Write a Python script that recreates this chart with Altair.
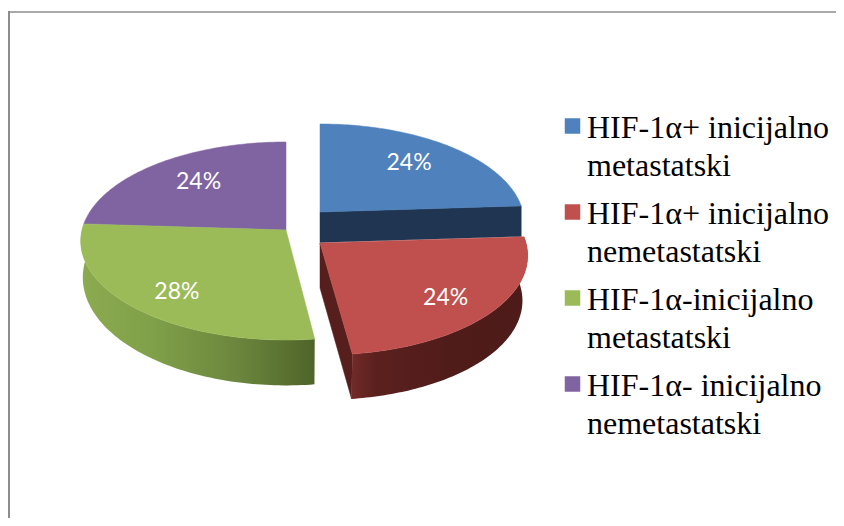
import math
import altair as alt

SERIES = ["HIF-1α+ inicijalno\nmetastatski", "HIF-1α+ inicijalno\nnemetastatski",
          "HIF-1α-inicijalno\nmetastatski", "HIF-1α- inicijalno\nnemetastatski"]
SHARES = [24, 24, 28, 24]
TOP_COLORS = ["#4F81BD", "#C0504D", "#9BBB59", "#8064A2"]
CUT_COLORS = ["#1F3552", "#561F1D", None, None]
RIM_STOPS = {
    1: [("#722A27", 0.0), ("#5A201E", 0.14), ("#501C1A", 0.55), ("#4D1B19", 1.0)],
    2: [("#8CAB50", 0.0), ("#80A049", 0.3), ("#6D883E", 0.65), ("#4F6429", 1.0)],
}

# geometry of the drawing (page pixels minus the 8px margin)
OFFSET = 8
APEX = [(320, 212), (320, 243), (286, 230), (286, 230)]
RADIUS_X = [203, 206, 204, 204]
TILT = [97.8, 99.5, 97.8, 97.8]
SKEW = [0, 0.03, 0, 0]
PERSP = 0.111
DEPTH = [30.5, 45, 35.5, 0]
DEPTH_F = [1.0, 1.0, 1.09, 1.0]
SHRINK = [1.0, 0.975, 0.99, 1.0]
LABEL_RU = [0.693, 0.727, 0.718, 0.677]
LABEL_RV = [0.75, 0.81, 0.80, 0.724]
LEG_Y = [126, 212, 298, 384]


def proj(i, frac):
    a = frac * 2 * math.pi
    u, v = math.sin(a), -math.cos(a)
    s = 1 / (1 - PERSP * v)
    dy = v * TILT[i] * s
    return u * RADIUS_X[i] * s + SKEW[i] * dy, dy


def top_pt(i, frac):
    dx, dy = proj(i, frac)
    return [APEX[i][0] - OFFSET + dx, APEX[i][1] - OFFSET + dy]


def bot_pt(i, frac):
    dx, dy = proj(i, frac)
    return [APEX[i][0] - OFFSET + dx * SHRINK[i], APEX[i][1] - OFFSET + dy * DEPTH_F[i] + DEPTH[i]]


def apex_top(i):
    return [APEX[i][0] - OFFSET, APEX[i][1] - OFFSET]


def apex_bot(i):
    return [APEX[i][0] - OFFSET, APEX[i][1] - OFFSET + DEPTH[i]]


total = sum(SHARES)
starts = [sum(SHARES[:i]) / total for i in range(4)]
ends = [sum(SHARES[:i + 1]) / total for i in range(4)]


def arc(i, pt, n=90):
    return [pt(i, starts[i] + (ends[i] - starts[i]) * k / n) for k in range(n + 1)]


def shape(ring, fill):
    data = alt.InlineData(values={"type": "FeatureCollection", "features": [
        {"type": "Feature", "properties": {},
         "geometry": {"type": "Polygon", "coordinates": [ring + [ring[0]]]}}]},
        format=alt.DataFormat(property="features", type="json"))
    kw = {"fill": fill}
    if isinstance(fill, str):
        kw.update(stroke=fill, strokeWidth=0.5)
    else:
        kw.update(strokeWidth=0)
    return alt.Chart(data).mark_geoshape(**kw).project(type="identity", scale=1, translate=[0, 0])


def gradient(stops):
    return alt.LinearGradient(gradient="linear", x1=0, x2=1, y1=0, y2=0,
                              stops=[alt.GradientStop(color=c, offset=o) for c, o in stops])


layers = []
for i in (3, 2, 0, 1):
    if CUT_COLORS[i]:
        layers.append(shape([apex_top(i), top_pt(i, ends[i]), bot_pt(i, ends[i]), apex_bot(i)], CUT_COLORS[i]))
    if i in RIM_STOPS:
        layers.append(shape(arc(i, top_pt) + arc(i, bot_pt)[::-1], gradient(RIM_STOPS[i])))
    layers.append(shape([apex_top(i)] + arc(i, top_pt), TOP_COLORS[i]))

labels = []
for i in range(4):
    mid = (starts[i] + ends[i]) / 2
    dx, dy = proj(i, mid)
    labels.append({"t": f"{SHARES[i]}%",
                   "x": APEX[i][0] - OFFSET + dx * LABEL_RU[i],
                   "y": APEX[i][1] - OFFSET + dy * LABEL_RV[i]})

pct = alt.Chart(alt.Data(values=labels)).mark_text(
    font="Lato", fontSize=23, color="white", align="center", baseline="middle"
).encode(x=alt.X("x:Q", scale=None, axis=None), y=alt.Y("y:Q", scale=None, axis=None), text="t:N")

legend_rows = [{"s": SERIES[i].split("\n"), "c": TOP_COLORS[i], "y": LEG_Y[i] - OFFSET} for i in range(4)]
swatch = alt.Chart(alt.Data(values=legend_rows)).mark_square(size=240, opacity=1).encode(
    x=alt.value(564.5), y=alt.Y("y:Q", scale=None, axis=None),
    color=alt.Color("c:N", scale=None),
)
text = alt.Chart(alt.Data(values=legend_rows)).mark_text(
    font="Liberation Serif", fontSize=32, color="black", align="left", baseline="middle",
    lineHeight=37.5, dy=2
).encode(
    x=alt.value(579), y=alt.Y("y:Q", scale=None, axis=None), text="s:N"
)

# frame: only the top and left edges show in the reference
edge_top = alt.Chart(alt.Data(values=[{"k": 0}])).mark_rule(color="#8c8c8c", strokeWidth=1.7).encode(
    x=alt.value(0), x2=alt.value(828), y=alt.value(4))
edge_left = alt.Chart(alt.Data(values=[{"k": 0}])).mark_rule(color="#8c8c8c", strokeWidth=2).encode(
    x=alt.value(1), y=alt.value(3), y2=alt.value(510))

chart = alt.layer(edge_top, edge_left, *layers, pct, swatch, text).properties(
    width=828, height=510, padding=0,
    autosize=alt.AutoSizeParams(type="none"),
).configure_view(stroke=None)

chart.save("out.html", embed_options={"renderer": "svg", "actions": False})
